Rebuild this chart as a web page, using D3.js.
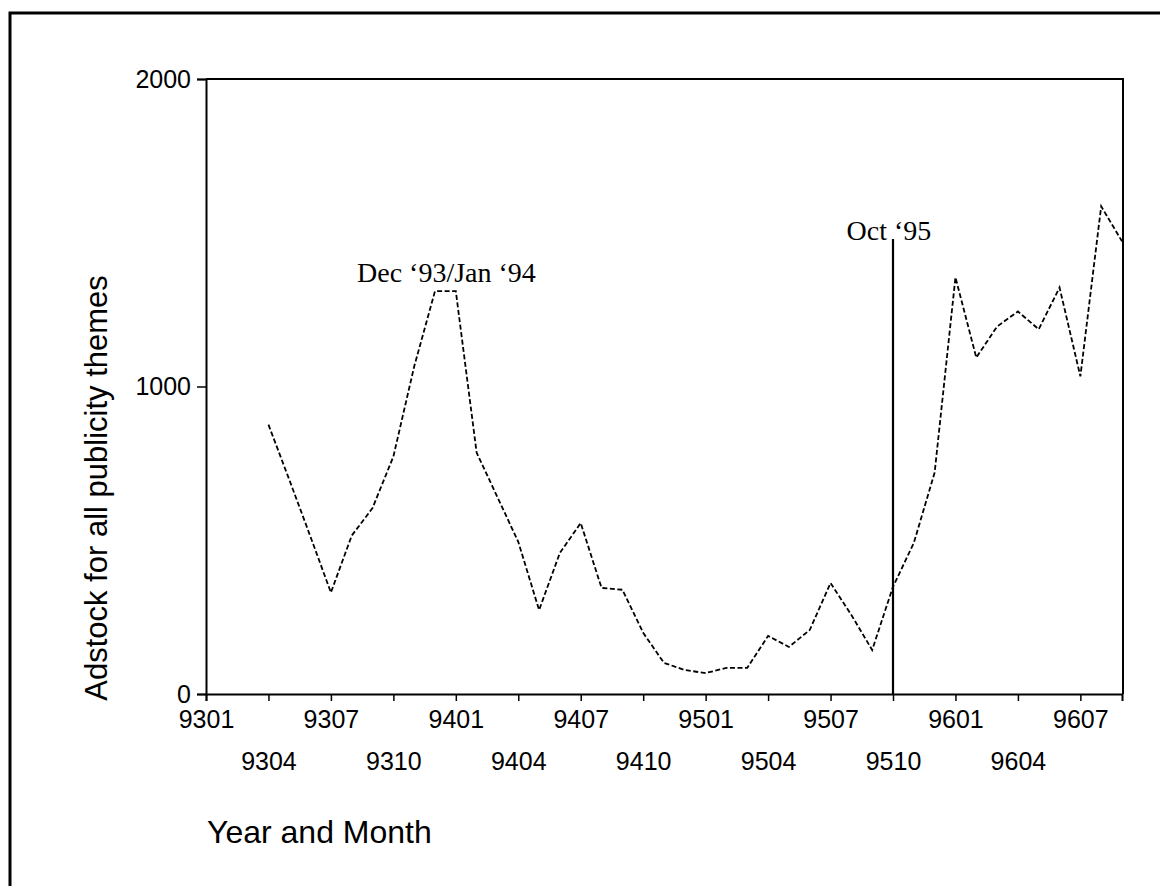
<!DOCTYPE html>
<html><head><meta charset="utf-8">
<script src="https://cdn.jsdelivr.net/npm/d3@7"></script>
<style>html,body{margin:0;padding:0;background:#fff;}svg{display:block;}</style>
</head><body>
<svg id="chart" width="1160" height="886"></svg>
<script>
// ---- data ----
const allMonths = ["9301","9302","9303","9304","9305","9306","9307","9308","9309","9310","9311","9312",
  "9401","9402","9403","9404","9405","9406","9407","9408","9409","9410","9411","9412",
  "9501","9502","9503","9504","9505","9506","9507","9508","9509","9510","9511","9512",
  "9601","9602","9603","9604","9605","9606","9607","9608","9609"];
const dataMonths = ["9304","9305","9306","9307","9308","9309","9310","9311","9312",
  "9401","9402","9403","9404","9405","9406","9407","9408","9409","9410","9411","9412",
  "9501","9502","9503","9504","9505","9506","9507","9508","9509","9510","9511","9512",
  "9601","9602","9603","9604","9605","9606","9607","9608","9609"];
const adstock = [876,697,515,330,515,605,772,1065,1310,
  1310,785,640,495,273,459,556,345,339,199,101,78,
  68,85,85,189,153,208,361,257,143,349,491,720,
  1355,1094,1195,1244,1186,1322,1033,1586,1472];
const xTickLabels = ["9301","9304","9307","9310","9401","9404","9407","9410","9501","9504","9507","9510","9601","9604","9607"];
const yTicks = [0,1000,2000];
const markerMonth = "9510";
const markerTop = 1480;
const peakLabel = "Dec \u201893/Jan \u201894";
const markerLabel = "Oct \u201895";
const yTitle = "Adstock for all publicity themes";
const xTitle = "Year and Month";

// ---- layout ----
const svg = d3.select("#chart");
const L = 206, R = 1122, T = 79, B = 694;
const x = d3.scalePoint().domain(allMonths).range([L, R]);
const y = d3.scaleLinear().domain([0, 2000]).range([B, T]);

// outer frame (left + top visible)
svg.append("path").attr("d", "M10,886 L10,13 L1160,13")
  .attr("fill", "none").attr("stroke", "#000").attr("stroke-width", 3);

// plot box top and right
svg.append("path").attr("d", `M${L},${T} L${R + 1},${T} L${R + 1},${B}`)
  .attr("fill", "none").attr("stroke", "#000").attr("stroke-width", 2);

// y axis
const yAxis = svg.append("g").attr("transform", `translate(${L},0)`)
  .call(d3.axisLeft(y).tickValues(yTicks).tickFormat(d3.format("d")).tickSize(9).tickPadding(6));
yAxis.select(".domain").attr("stroke-width", 2);
yAxis.selectAll(".tick line").attr("stroke-width", 1.5);
yAxis.selectAll("text").attr("font-family", "Liberation Sans, Arial, sans-serif").attr("font-size", 25).attr("fill", "#000");

// x axis
const xAxis = svg.append("g").attr("transform", `translate(0,${B})`)
  .call(d3.axisBottom(x).tickValues(xTickLabels).tickSize(7).tickPadding(9));
xAxis.select(".domain").attr("stroke-width", 2);
xAxis.selectAll(".tick line").attr("stroke-width", 1.5);
xAxis.selectAll("text")
  .attr("font-family", "Liberation Sans, Arial, sans-serif").attr("font-size", 25).attr("fill", "#000")
  .attr("dy", (d, i) => i % 2 === 0 ? "0.71em" : "2.39em");

// line
const line = d3.line().x((d, i) => x(dataMonths[i])).y(d => y(d));
svg.append("path").datum(adstock).attr("d", line)
  .attr("fill", "none").attr("stroke", "#000").attr("stroke-width", 1.8)
  .attr("stroke-dasharray", "5,2.5");

// marker line
svg.append("line")
  .attr("x1", x(markerMonth)).attr("x2", x(markerMonth))
  .attr("y1", y(markerTop)).attr("y2", y(0))
  .attr("stroke", "#000").attr("stroke-width", 2.2);

// annotations
svg.append("text").attr("x", (x("9312") + x("9401")) / 2 + 1).attr("y", 282)
  .attr("text-anchor", "middle").attr("font-family", "Liberation Serif, Times New Roman, serif")
  .attr("font-size", 28).attr("fill", "#000").text(peakLabel);
svg.append("text").attr("x", x(markerMonth) - 4).attr("y", 240)
  .attr("text-anchor", "middle").attr("font-family", "Liberation Serif, Times New Roman, serif")
  .attr("font-size", 28).attr("fill", "#000").text(markerLabel);

// axis titles
svg.append("text").attr("transform", `translate(107,488) rotate(-90)`)
  .attr("text-anchor", "middle").attr("font-family", "Liberation Sans, Arial, sans-serif")
  .attr("font-size", 31).attr("fill", "#000").text(yTitle);
svg.append("text").attr("x", 207).attr("y", 843)
  .attr("font-family", "Liberation Sans, Arial, sans-serif")
  .attr("font-size", 32).attr("fill", "#000").text(xTitle);
</script>
</body></html>
